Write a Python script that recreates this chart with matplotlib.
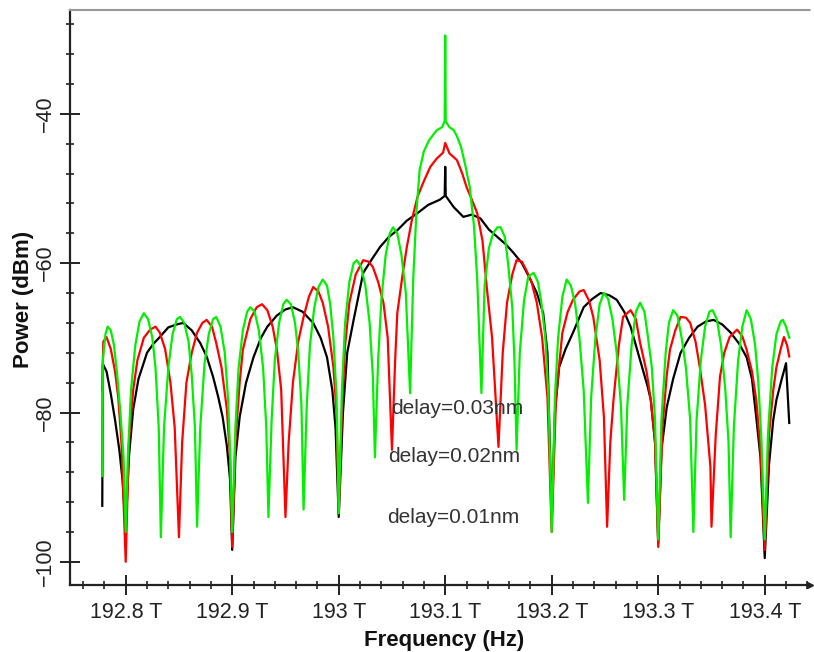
import matplotlib
matplotlib.use('Agg')
import matplotlib.pyplot as plt
from matplotlib.ticker import MultipleLocator

plt.rcParams['font.family'] = ['Liberation Sans', 'DejaVu Sans']

# Spectra (frequency in THz, power in dBm)
black_freq = [192.778, 192.7785, 192.782, 192.786, 192.790, 192.794, 192.797, 192.800, 192.803, 192.807,
              192.812, 192.820, 192.826, 192.832, 192.840, 192.848, 192.854, 192.862, 192.870, 192.876,
              192.882, 192.887, 192.891, 192.895, 192.898, 192.900, 192.903, 192.907, 192.913, 192.920,
              192.927, 192.933, 192.942, 192.950, 192.957, 192.966, 192.976, 192.983, 192.989, 192.994,
              192.997, 193.000, 193.004, 193.008, 193.014, 193.023, 193.031, 193.039, 193.047, 193.055,
              193.064, 193.074, 193.084, 193.095, 193.0995, 193.100, 193.1005, 193.108, 193.117, 193.125,
              193.133, 193.141, 193.149, 193.157, 193.164, 193.172, 193.180, 193.186, 193.192, 193.196,
              193.200, 193.203, 193.207, 193.213, 193.220, 193.230, 193.238, 193.246, 193.254, 193.261,
              193.268, 193.274, 193.283, 193.290, 193.293, 193.297, 193.300, 193.303, 193.308, 193.314,
              193.321, 193.329, 193.337, 193.345, 193.352, 193.360, 193.368, 193.376, 193.383, 193.388,
              193.392, 193.396, 193.400, 193.404, 193.408, 193.411, 193.416, 193.420, 193.423]
black_power = [-92.5, -73.5, -74.5, -77.5, -81, -85, -89, -95.5, -86, -79.6,
               -75.5, -72, -70.8, -69.9, -68.6, -68.2, -68, -69, -70.7, -72.5,
               -75.2, -78, -80.6, -84.5, -89, -98.4, -86, -80.6, -76, -72.6,
               -70, -68.5, -67, -66.2, -65.9, -66.5, -68, -70, -72.6, -77,
               -82, -94, -80, -72, -67.6, -61.3, -59.5, -57.8, -56.5, -55.6,
               -54.3, -53.3, -52.2, -51.5, -51, -47.1, -51, -52.5, -53.8, -53.5,
               -54, -55.5, -56.5, -57.5, -58.6, -60, -62.2, -64, -66.7, -72,
               -94.4, -80, -73.9, -71.5, -69.3, -65.9, -64.8, -64, -64.3, -64.9,
               -66.5, -68.5, -73, -76.5, -78.3, -84, -97.5, -85, -79.3, -75.5,
               -72, -70, -68.5, -67.8, -67.6, -68.2, -69.3, -70.8, -72.6, -75.5,
               -80.6, -86, -99.5, -87, -81, -78.3, -75.5, -73.4, -81.4]

red_freq = [192.778, 192.779, 192.782, 192.786, 192.790, 192.793, 192.796, 192.800, 192.803, 192.807,
            192.811, 192.817, 192.823, 192.828, 192.832, 192.837, 192.842, 192.846, 192.850, 192.853,
            192.857, 192.862, 192.867, 192.872, 192.876, 192.881, 192.885, 192.890, 192.895, 192.898,
            192.900, 192.903, 192.907, 192.910, 192.917, 192.923, 192.928, 192.933, 192.938, 192.942,
            192.946, 192.950, 192.953, 192.957, 192.962, 192.967, 192.972, 192.976, 192.981, 192.985,
            192.990, 192.995, 192.998, 193.000, 193.003, 193.006, 193.010, 193.016, 193.023, 193.028,
            193.032, 193.037, 193.042, 193.046, 193.050, 193.053, 193.055, 193.060, 193.064, 193.069,
            193.074, 193.080, 193.086, 193.092, 193.098, 193.100, 193.104, 193.111, 193.116, 193.120,
            193.125, 193.130, 193.135, 193.139, 193.144, 193.150, 193.154, 193.158, 193.163, 193.167,
            193.172, 193.176, 193.181, 193.186, 193.191, 193.196, 193.200, 193.204, 193.210, 193.215,
            193.220, 193.226, 193.230, 193.235, 193.239, 193.245, 193.249, 193.252, 193.255, 193.258,
            193.263, 193.267, 193.274, 193.279, 193.283, 193.289, 193.293, 193.297, 193.300, 193.304,
            193.308, 193.311, 193.316, 193.321, 193.326, 193.330, 193.335, 193.339, 193.344, 193.349,
            193.350, 193.354, 193.358, 193.362, 193.367, 193.374, 193.379, 193.383, 193.388, 193.392,
            193.396, 193.400, 193.404, 193.408, 193.411, 193.415, 193.418, 193.421, 193.423]
red_power = [-77, -70.5, -69.9, -71.5, -74.5, -78, -84, -100, -84, -77,
             -73, -70, -68.9, -68.5, -69.3, -71.5, -76, -82, -96.7, -84,
             -76, -72, -69.3, -68, -67.6, -68.5, -70.7, -74, -79.6, -86,
             -98, -84, -76, -71.6, -67.5, -65.9, -65.5, -66.3, -68.5, -71.6,
             -77, -94, -84, -76, -70.5, -67.2, -64.5, -63.2, -63.8, -65.3,
             -68.5, -73.9, -80, -93.5, -80, -71, -65.3, -61.5, -59.6, -59.8,
             -60.5, -62.5, -65.3, -70, -85, -73, -66.7, -61.5, -57.8, -54,
             -51.1, -49, -47.1, -46, -45.2, -43.9, -45.3, -46.2, -48, -49.8,
             -51.5, -53.3, -57, -63.2, -70, -84.6, -72, -65.3, -61.5, -59.6,
             -59.8, -60.9, -62.5, -65.3, -70, -78, -96, -78, -69.3, -66.5,
             -64.9, -63.8, -63.6, -65, -67.2, -73, -80.6, -95.3, -84, -78.3,
             -71, -67.2, -66.3, -67.5, -70.7, -74.5, -78.3, -84, -98, -82,
             -75, -71.6, -69, -67.2, -67.3, -68, -70.5, -73.9, -79, -87.3,
             -95.3, -83, -75.2, -72, -69.9, -68.9, -69.8, -71.6, -74.5, -78.3,
             -85, -98.4, -83, -77, -73.9, -71.5, -69.9, -71, -72.5]

green_freq = [192.778, 192.7785, 192.781, 192.783, 192.786, 192.789, 192.792, 192.795, 192.798, 192.800,
              192.802, 192.805, 192.809, 192.813, 192.817, 192.821, 192.825, 192.828, 192.831, 192.833,
              192.836, 192.840, 192.844, 192.848, 192.851, 192.855, 192.859, 192.862, 192.865, 192.867,
              192.870, 192.874, 192.878, 192.882, 192.885, 192.889, 192.893, 192.896, 192.898, 192.900,
              192.903, 192.906, 192.910, 192.914, 192.917, 192.921, 192.925, 192.929, 192.932, 192.934,
              192.937, 192.940, 192.944, 192.948, 192.951, 192.955, 192.959, 192.962, 192.965, 192.967,
              192.970, 192.973, 192.977, 192.981, 192.985, 192.989, 192.992, 192.995, 192.998, 193.000,
              193.003, 193.006, 193.010, 193.014, 193.017, 193.021, 193.025, 193.029, 193.032, 193.034,
              193.037, 193.040, 193.044, 193.048, 193.051, 193.055, 193.059, 193.063, 193.067, 193.070,
              193.073, 193.076, 193.080, 193.085, 193.092, 193.097, 193.0995, 193.100, 193.1005, 193.104,
              193.108, 193.111, 193.115, 193.119, 193.123, 193.127, 193.130, 193.134, 193.137, 193.141,
              193.145, 193.149, 193.152, 193.156, 193.159, 193.163, 193.165, 193.167, 193.170, 193.174,
              193.178, 193.183, 193.187, 193.190, 193.194, 193.197, 193.200, 193.203, 193.206, 193.210,
              193.214, 193.218, 193.222, 193.226, 193.230, 193.234, 193.237, 193.241, 193.245, 193.249,
              193.253, 193.257, 193.261, 193.265, 193.268, 193.271, 193.275, 193.279, 193.283, 193.287,
              193.290, 193.294, 193.297, 193.300, 193.303, 193.307, 193.310, 193.314, 193.318, 193.322,
              193.326, 193.330, 193.333, 193.336, 193.340, 193.344, 193.348, 193.351, 193.355, 193.359,
              193.363, 193.366, 193.368, 193.371, 193.375, 193.379, 193.383, 193.387, 193.391, 193.394,
              193.397, 193.400, 193.403, 193.407, 193.411, 193.415, 193.417, 193.420, 193.423]
green_power = [-88.5, -73, -69.5, -68.5, -69, -71, -75, -80, -86, -96,
               -86, -77, -71, -67.8, -66.7, -67.5, -70, -74, -82, -96.7,
               -82, -74, -69.5, -67.5, -67.2, -68, -70.5, -75, -82, -95.3,
               -82, -73.5, -69.5, -67.5, -67.2, -68.5, -72, -78, -85, -96,
               -82, -74, -69, -66.5, -65.9, -66.5, -69, -74, -82, -94,
               -81, -73, -68, -65.5, -64.9, -65.5, -68, -72, -79, -93,
               -79, -71, -66, -63.2, -62.2, -63, -65.5, -70, -78, -93.5,
               -77, -68, -62.5, -60, -59.6, -60.5, -63, -68, -75, -86,
               -73, -65, -59, -56, -55.2, -56, -59, -64, -77.4, -62,
               -53, -47.5, -45, -43.5, -42.2, -41.8, -41, -29.5, -41, -41.8,
               -42.2, -43, -44.5, -47, -49.8, -55, -62, -77.4, -63, -58,
               -56, -55.2, -55.2, -56.5, -60, -66, -73, -85, -72, -65,
               -61.8, -61.3, -62.5, -65, -70, -78, -96, -78, -70, -64.5,
               -62.2, -63, -65.5, -70, -77, -92.1, -78, -70, -65.5, -64,
               -64.8, -67.5, -72, -79, -91.7, -79, -71, -66.5, -65.3, -66.5,
               -69.5, -74, -81, -97, -81, -72, -68, -66.3, -67, -70,
               -74, -81, -96, -81, -73, -68.5, -66.5, -66.3, -67.5, -71,
               -77, -84, -96.7, -82, -73, -68.5, -66.3, -67.5, -71, -76,
               -84, -97, -83, -74, -69.5, -67.8, -67.6, -68.5, -70]

x_ticks = [192.8, 192.9, 193.0, 193.1, 193.2, 193.3, 193.4]
x_tick_labels = ['192.8 T', '192.9 T', '193 T', '193.1 T', '193.2 T', '193.3 T', '193.4 T']
y_ticks = [-100, -80, -60, -40]
delay_labels = ['delay=0.03nm', 'delay=0.02nm', 'delay=0.01nm']

fig = plt.figure(figsize=(8.14, 6.52), dpi=100)
ax = fig.add_axes([70 / 814, 1 - 585 / 652, 740 / 814, 575 / 652])

ax.plot(black_freq, black_power, color='#000000', linewidth=1.6)
ax.plot(red_freq, red_power, color='#ff0000', linewidth=1.6)
ax.plot(green_freq, green_power, color='#00f000', linewidth=1.6)

ax.set_xlim(192.7477, 193.4425)
ax.set_ylim(-103.1, -26.1)

# axis styling: only left/bottom solid, dotted grey top edge
ax.spines['right'].set_visible(False)
ax.spines['top'].set_linestyle((0, (1, 1)))
ax.spines['top'].set_color('#999999')
ax.spines['top'].set_linewidth(1.5)
for side in ['left', 'bottom']:
    ax.spines[side].set_color('#222222')
    ax.spines[side].set_linewidth(1.6)

# small arrow at the end of the frequency axis
ax.plot([1.0], [0.0], marker='>', markersize=5, color='#222222',
        transform=ax.transAxes, clip_on=False)

ax.set_xticks(x_ticks)
ax.set_xticklabels(x_tick_labels)
ax.xaxis.set_minor_locator(MultipleLocator(0.02))
ax.set_yticks(y_ticks)
ax.yaxis.set_minor_locator(MultipleLocator(4))
ax.tick_params(axis='both', which='major', direction='inout', length=14, width=1.4,
               color='#222222', labelsize=15.5, labelcolor='#222222')
ax.tick_params(axis='both', which='minor', direction='inout', length=6, width=1.2, color='#222222')
ax.tick_params(axis='x', which='major', pad=5)
ax.tick_params(axis='y', which='major', pad=3)
for lbl in ax.get_yticklabels():
    lbl.set_rotation(90)
    lbl.set_va('center')

ax.set_xlabel('Frequency (Hz)', fontsize=16, fontweight='bold', color='#111111')
ax.xaxis.set_label_coords(0.506, -0.096)
ax.xaxis.label.set_va('center')
ax.set_ylabel('Power (dBm)', fontsize=16, fontweight='bold', color='#111111')
ax.yaxis.set_label_coords(-0.0635, 0.496)
ax.yaxis.label.set_va('center')

label_pos = [(193.1115, -79.4), (193.1085, -85.9), (193.1075, -94.1)]
for txt, (fx, py) in zip(delay_labels, label_pos):
    ax.text(fx, py, txt, fontsize=15, color='#333333', ha='center', va='center')

fig.savefig('out.png', dpi=100)
